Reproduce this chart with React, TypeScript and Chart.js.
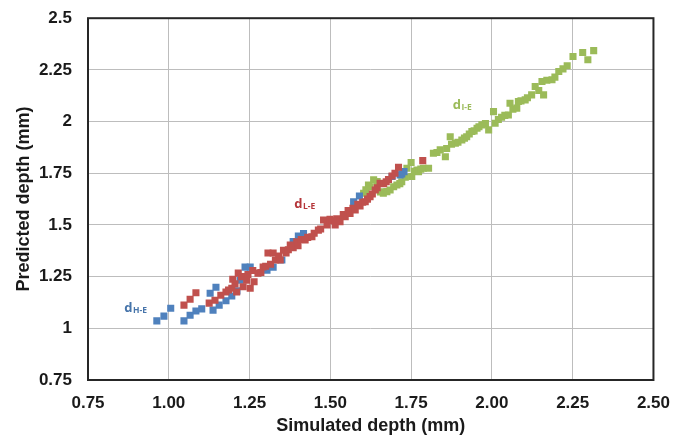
import React, { useEffect, useRef } from "react";
import { Chart, registerables } from "chart.js";

Chart.register(...registerables);

// ---- data (simulated depth, predicted depth) in mm ----
const seriesNames = ["dH-E", "dL-E", "dI-E"];

const hX = [0.963, 0.985, 1.006, 1.047, 1.066, 1.084, 1.102, 1.128, 1.146, 1.137, 1.156, 1.177, 1.195, 1.211, 1.221, 1.236, 1.252, 1.304, 1.323, 1.35, 1.385, 1.401, 1.417, 1.572, 1.59, 1.691, 1.716, 1.721, 1.728];
const hY = [1.036, 1.059, 1.097, 1.036, 1.063, 1.084, 1.094, 1.17, 1.199, 1.088, 1.112, 1.133, 1.156, 1.181, 1.233, 1.296, 1.296, 1.281, 1.296, 1.33, 1.42, 1.446, 1.459, 1.612, 1.64, 1.734, 1.742, 1.747, 1.758];

const lX = [1.047, 1.066, 1.084, 1.125, 1.143, 1.161, 1.177, 1.185, 1.195, 1.198, 1.205, 1.215, 1.21, 1.225, 1.23, 1.241, 1.245, 1.252, 1.26, 1.264, 1.276, 1.285, 1.292, 1.3, 1.307, 1.315, 1.323, 1.33, 1.34, 1.345, 1.363, 1.355, 1.37, 1.376, 1.385, 1.396, 1.4, 1.41, 1.422, 1.43, 1.443, 1.45, 1.463, 1.47, 1.479, 1.49, 1.499, 1.505, 1.515, 1.52, 1.53, 1.54, 1.546, 1.555, 1.561, 1.57, 1.577, 1.585, 1.592, 1.6, 1.608, 1.615, 1.623, 1.63, 1.639, 1.645, 1.654, 1.665, 1.673, 1.68, 1.691, 1.7, 1.711, 1.786];
const lY = [1.112, 1.141, 1.172, 1.122, 1.136, 1.16, 1.176, 1.185, 1.194, 1.237, 1.215, 1.267, 1.176, 1.25, 1.201, 1.233, 1.26, 1.194, 1.28, 1.225, 1.267, 1.27, 1.297, 1.3, 1.364, 1.31, 1.364, 1.33, 1.35, 1.33, 1.364, 1.378, 1.38, 1.403, 1.39, 1.419, 1.4, 1.43, 1.427, 1.44, 1.443, 1.46, 1.475, 1.48, 1.524, 1.5, 1.527, 1.52, 1.5, 1.53, 1.516, 1.55, 1.54, 1.57, 1.556, 1.58, 1.572, 1.6, 1.592, 1.61, 1.612, 1.625, 1.637, 1.65, 1.669, 1.68, 1.702, 1.7, 1.709, 1.72, 1.737, 1.75, 1.779, 1.811];

const iX = [1.603, 1.61, 1.618, 1.623, 1.634, 1.645, 1.655, 1.664, 1.675, 1.685, 1.696, 1.706, 1.715, 1.721, 1.732, 1.737, 1.75, 1.752, 1.76, 1.768, 1.773, 1.78, 1.788, 1.804, 1.819, 1.83, 1.84, 1.856, 1.86, 1.871, 1.875, 1.887, 1.895, 1.907, 1.915, 1.922, 1.93, 1.938, 1.945, 1.954, 1.96, 1.969, 1.98, 1.99, 2.005, 2.01, 2.02, 2.03, 2.04, 2.051, 2.056, 2.065, 2.077, 2.082, 2.09, 2.103, 2.11, 2.123, 2.134, 2.145, 2.155, 2.16, 2.17, 2.186, 2.195, 2.207, 2.22, 2.233, 2.251, 2.281, 2.297, 2.315];
const iY = [1.653, 1.67, 1.693, 1.685, 1.718, 1.71, 1.66, 1.653, 1.661, 1.669, 1.685, 1.693, 1.7, 1.709, 1.731, 1.774, 1.802, 1.734, 1.76, 1.766, 1.758, 1.77, 1.774, 1.774, 1.847, 1.85, 1.863, 1.83, 1.87, 1.927, 1.89, 1.895, 1.9, 1.911, 1.92, 1.927, 1.94, 1.952, 1.955, 1.968, 1.975, 1.984, 1.99, 1.96, 2.048, 1.992, 2.01, 2.021, 2.03, 2.032, 2.089, 2.06, 2.065, 2.097, 2.1, 2.105, 2.115, 2.129, 2.17, 2.15, 2.194, 2.129, 2.2, 2.202, 2.215, 2.242, 2.255, 2.27, 2.315, 2.334, 2.299, 2.343];

const xTickValues = [0.75, 1.0, 1.25, 1.5, 1.75, 2.0, 2.25, 2.5];
const xTickLabels = ["0.75", "1.00", "1.25", "1.50", "1.75", "2.00", "2.25", "2.50"];
const yTickValues = [0.75, 1.0, 1.25, 1.5, 1.75, 2.0, 2.25, 2.5];
const yTickLabels = ["0.75", "1", "1.25", "1.5", "1.75", "2", "2.25", "2.5"];

const xTitle = "Simulated depth (mm)";
const yTitle = "Predicted depth (mm)";

// in-plot series labels: main letter, subscript, anchor in data coords
const labelMain = ["d", "d", "d"];
const labelSub = ["H-E", "L-E", "I-E"];
const labelX = [0.862, 1.388, 1.879];
const labelY = [1.079, 1.583, 2.062];

const pointColors = ["#4F81BD", "#C0504D", "#9BBB59"];
const labelColors = ["#4674AA", "#B5363A", "#9BBB59"];

const zip = (xs: number[], ys: number[]) => xs.map((x, i) => ({ x, y: ys[i] }));

const overlayPlugin = {
  id: "overlay",
  afterDraw(chart: any) {
    const { ctx, chartArea, scales } = chart;
    ctx.save();
    ctx.strokeStyle = "#262626";
    ctx.lineWidth = 2;
    ctx.strokeRect(chartArea.left, chartArea.top, chartArea.right - chartArea.left, chartArea.bottom - chartArea.top);
    ctx.textBaseline = "alphabetic";
    ctx.textAlign = "left";
    for (let i = 0; i < labelMain.length; i++) {
      const px = scales.x.getPixelForValue(labelX[i]);
      const py = scales.y.getPixelForValue(labelY[i]);
      ctx.fillStyle = labelColors[i];
      ctx.font = 'bold 13px "Open Sans"';
      ctx.fillText(labelMain[i], px, py);
      const w = ctx.measureText(labelMain[i]).width;
      ctx.font = 'bold 8.5px "Open Sans"';
      ctx.fillText(labelSub[i], px + w + 0.5, py + 1.5);
    }
    ctx.restore();
  },
};

const CANVAS_W = 683;
const CANVAS_H = 447;
const CANVAS_TOP = -8;

export default function App() {
  const ref = useRef<HTMLCanvasElement | null>(null);

  useEffect(() => {
    if (!ref.current) return;
    const ds = [
      { data: zip(lX, lY), idx: 1 },
      { data: zip(hX, hY), idx: 0 },
      { data: zip(iX, iY), idx: 2 },
    ].map((d) => ({
      label: seriesNames[d.idx],
      data: d.data,
      pointStyle: "rect",
      pointRadius: 5,
      pointHoverRadius: 5,
      pointBorderWidth: 0,
      borderWidth: 0,
      backgroundColor: pointColors[d.idx],
      borderColor: pointColors[d.idx],
      showLine: false,
    }));

    const tickFont = { family: '"Liberation Sans", Arial, sans-serif', size: 17, weight: "bold" as const };
    const titleFont = { family: '"Liberation Sans", Arial, sans-serif', size: 18, weight: "bold" as const };

    const chart = new Chart(ref.current, {
      type: "scatter",
      data: { datasets: ds as any },
      plugins: [overlayPlugin],
      options: {
        animation: false,
        responsive: false,
        maintainAspectRatio: false,
        layout: { padding: 0 },
        plugins: { legend: { display: false }, tooltip: { enabled: false } },
        scales: {
          x: {
            type: "linear",
            min: 0.75,
            max: 2.5,
            afterBuildTicks: (s: any) => {
              s.ticks = xTickValues.map((v) => ({ value: v }));
            },
            afterFit: (s: any) => {
              s.height = 59;
            },
            ticks: {
              font: tickFont,
              color: "#1a1a1a",
              padding: 13,
              maxRotation: 0,
              autoSkip: false,
              callback: (v: any) => {
                const i = xTickValues.findIndex((t) => Math.abs(t - Number(v)) < 1e-6);
                return i >= 0 ? xTickLabels[i] : "";
              },
            },
            grid: { color: "#BDBDBD", lineWidth: 1, drawTicks: false },
            border: { display: false },
            title: { display: true, text: xTitle, font: titleFont, color: "#1a1a1a", padding: { top: 0, bottom: 2 } },
          },
          y: {
            type: "linear",
            min: 0.75,
            max: 2.5,
            afterBuildTicks: (s: any) => {
              s.ticks = yTickValues.map((v) => ({ value: v }));
            },
            afterFit: (s: any) => {
              s.width = 88;
            },
            ticks: {
              font: tickFont,
              color: "#1a1a1a",
              padding: 16,
              autoSkip: false,
              callback: (v: any) => {
                const i = yTickValues.findIndex((t) => Math.abs(t - Number(v)) < 1e-6);
                return i >= 0 ? yTickLabels[i] : "";
              },
            },
            grid: { color: "#BDBDBD", lineWidth: 1, drawTicks: false },
            border: { display: false },
            title: { display: true, text: yTitle, font: titleFont, color: "#1a1a1a", padding: { top: 13, bottom: 0 } },
          },
        },
      },
    });
    return () => chart.destroy();
  }, []);

  return (
    <div style={{ position: "absolute", left: 0, top: 0, width: 673, height: 439, overflow: "hidden", background: "#fff" }}>
      <canvas
        ref={ref}
        width={CANVAS_W}
        height={CANVAS_H}
        style={{ position: "absolute", left: 0, top: CANVAS_TOP, display: "block", width: CANVAS_W, height: CANVAS_H }}
      />
    </div>
  );
}
